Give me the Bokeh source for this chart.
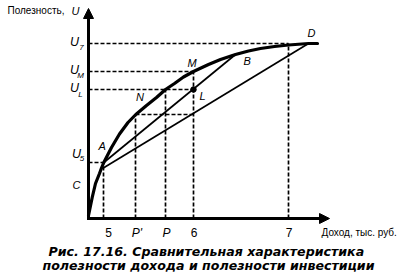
from bokeh.plotting import figure
from bokeh.models import Range1d, Arrow, NormalHead
from bokeh.core.properties import value
from bokeh.embed import file_html
from bokeh.resources import INLINE

# ---- data (chart units) ----
curve_x = [0, 3.7, 7, 11, 13, 15.3, 23, 31, 39.5, 47.3, 58, 68, 77, 86, 95, 105,
           120, 132, 147, 160, 172, 186, 200, 220, 229]
curve_y = [3, 21, 35, 45, 50.5, 56, 71, 84.5, 96, 104, 113, 121, 129, 135, 141.5, 147,
           154, 159, 164, 167.5, 170, 172, 173.5, 175, 175]

tick_labels = ["5", "P'", "P", "6", "7"]
tick_values = [15, 47, 77, 105, 200]

level_values = [56, 104, 129, 147, 175]   # U5, P'-level, UL, UM, U7

pt_A = (15.3, 56)
pt_C = (14, 50)
pt_B = (147, 164)
pt_D = (220, 175)
pt_L = (105, 129)

FONT = value("Liberation Sans")

p = figure(width=411, height=276, x_range=Range1d(-88, 323), y_range=Range1d(-58, 218),
           output_backend="svg", toolbar_location=None, min_border=0,
           x_axis_location=None, y_axis_location=None)
p.grid.visible = False
p.outline_line_color = None
p.background_fill_color = "white"
p.border_fill_color = "white"

# dashed guide lines
u5, upp, ul, um, u7 = level_values
t5, tp1, tp, t6, t7 = tick_values
hx0 = [0, tp1, 0, 0, 0]
hx1 = [t5, t6, t6, t6, t7]
hy = [u5, upp, ul, um, u7]
p.segment(x0=hx0, y0=hy, x1=hx1, y1=hy, line_color="black", line_width=1.7, line_dash="4 2")
vtop = [u5, upp, ul, um, u7]
p.segment(x0=tick_values, y0=[0] * 5, x1=tick_values, y1=vtop, line_color="black",
          line_width=1.7, line_dash="4 2")

# chords
p.line([pt_A[0], pt_B[0]], [pt_A[1], pt_B[1]], line_color="black", line_width=1.7)
p.line([pt_C[0], pt_D[0]], [pt_C[1], pt_D[1]], line_color="black", line_width=1.7)

# utility curve
p.line(curve_x, curve_y, line_color="black", line_width=3.2, line_join="round", line_cap="round")

# point L
p.scatter([pt_L[0]], [pt_L[1]], size=5.5, color="black")

# axes
p.add_layout(Arrow(end=NormalHead(size=10, fill_color="black", line_color="black"),
                   x_start=0, y_start=0, x_end=0, y_end=210, line_width=3))
p.add_layout(Arrow(end=NormalHead(size=10, fill_color="black", line_color="black"),
                   x_start=-1.5, y_start=0, x_end=241, y_end=0, line_width=3))

# tick labels
num_idx = [0, 3, 4]
let_idx = [1, 2]
tick_x = [t5 + 5, tp1 + 1.5, tp + 1, t6 + 0.5, t7 + 0.5]
p.text(x=[tick_x[i] for i in num_idx], y=[-14] * 3, text=[tick_labels[i] for i in num_idx],
       text_align="center", text_baseline="middle",
       text_font=FONT, text_font_size="12px")
p.text(x=[tick_x[i] for i in let_idx], y=[-14] * 2, text=[tick_labels[i] for i in let_idx],
       text_align="center", text_baseline="middle",
       text_font=FONT, text_font_size="12px", text_font_style="italic")

# U labels
u_main_x = [-12, -14, -14, -14]
u_main_y = [u5 + 9, ul + 2, um + 2, u7 + 2]
p.text(x=u_main_x, y=u_main_y, text=["U"] * 4, text_align="center", text_baseline="middle",
       text_font=FONT, text_font_size="12.5px", text_font_style="italic")
p.text(x=[-6.5, -8, -8, -7], y=[u5 + 4, ul - 4.5, um - 4, u7 - 3.5], text=["5", "L", "M", "7"],
       text_align="center", text_baseline="middle", text_font=FONT, text_font_size="8px",
       text_font_style="italic")

# point labels
p.text(x=[13.7, -12, 158.7, 223, 114, 103.7, 51.5],
       y=[73, 33.5, 158, 185.7, 122.5, 155.7, 121.3],
       text=["A", "C", "B", "D", "L", "M", "N"], text_align="center", text_baseline="middle",
       text_font=FONT, text_font_size="11px", text_font_style="italic")

# axis titles
p.text(x=[-81], y=[208], text=["Полезность,"], text_align="left", text_baseline="middle",
       text_font=FONT, text_font_size="10px")
p.text(x=[-17], y=[208], text=["U"], text_align="left", text_baseline="middle",
       text_font=FONT, text_font_size="11px", text_font_style="italic")
p.text(x=[233], y=[-14], text=["Доход, тыс. руб."], text_align="left", text_baseline="middle",
       text_font=FONT, text_font_size="10px")

# caption
p.text(x=[-40, -46], y=[-32.5, -47],
       text=["Рис. 17.16. Сравнительная характеристика",
             "полезности дохода и полезности инвестиции"],
       text_align="left", text_baseline="middle", text_font=value("DejaVu Sans"),
       text_font_size="12.6px", text_font_style="bold italic")

open("out.html", "w").write(file_html(p, INLINE))
